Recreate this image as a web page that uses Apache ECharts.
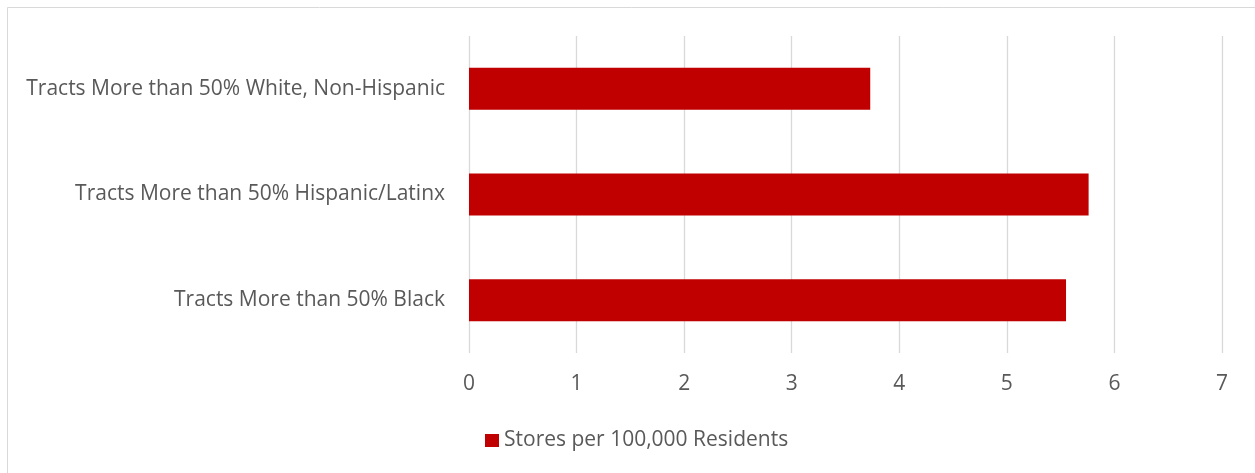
<!DOCTYPE html>
<html>
<head>
<meta charset="utf-8">
<script src="https://cdn.jsdelivr.net/npm/echarts@6/dist/echarts.min.js"></script>
<style>
html,body{margin:0;padding:0;background:#fff;}
#chart{width:1255px;height:473px;}
</style>
</head>
<body>
<div id="chart"></div>
<script>
const categories = [
  "Tracts More than 50% Black",
  "Tracts More than 50% Hispanic/Latinx",
  "Tracts More than 50% White, Non-Hispanic"
];
const seriesName = "Stores per 100,000 Residents";
const values = [5.55, 5.76, 3.73];
const xTicks = [0, 1, 2, 3, 4, 5, 6, 7];

const FONT = "'Open Sans', sans-serif";
const chart = echarts.init(document.getElementById('chart'), null, {renderer: 'canvas'});
chart.setOption({
  animation: false,
  backgroundColor: '#ffffff',
  textStyle: {fontFamily: FONT},
  graphic: [{
    type: 'rect',
    shape: {x: 7.5, y: 7.5, width: 1260, height: 480},
    style: {fill: 'none', stroke: '#d9d9d9', lineWidth: 1},
    silent: true
  }],
  grid: {left: 469, right: 33, top: 36, bottom: 120, containLabel: false},
  xAxis: {
    type: 'value',
    min: xTicks[0],
    max: xTicks[xTicks.length - 1],
    interval: 1,
    axisLine: {show: false},
    axisTick: {show: false},
    splitLine: {show: true, lineStyle: {color: '#d9d9d9', width: 1.3}},
    axisLabel: {color: '#595959', fontSize: 21, fontFamily: FONT, margin: 21}
  },
  yAxis: {
    type: 'category',
    data: categories,
    axisLine: {show: false},
    axisTick: {show: false},
    splitLine: {show: false},
    axisLabel: {color: '#595959', fontSize: 21, fontFamily: FONT, margin: 24}
  },
  legend: {
    data: [seriesName],
    left: 480,
    top: 425,
    itemWidth: 14,
    itemHeight: 13,
    itemGap: 5,
    icon: 'rect',
    textStyle: {color: '#595959', fontSize: 21, fontFamily: FONT}
  },
  series: [{
    name: seriesName,
    type: 'bar',
    data: values,
    barWidth: 42,
    itemStyle: {color: '#c00000'}
  }]
});
</script>
</body>
</html>
